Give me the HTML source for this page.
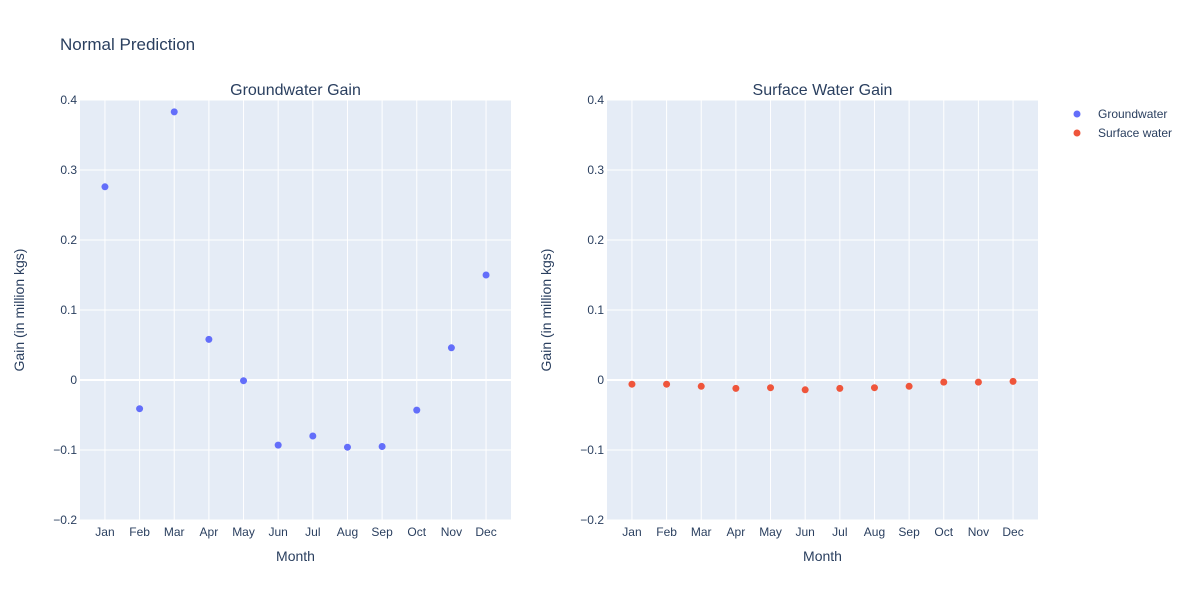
<!DOCTYPE html>
<html><head><meta charset="utf-8">
<style>
body{margin:0;background:#fff;font-family:"Liberation Sans",Arial,sans-serif;}
svg text{font-family:"Liberation Sans",Arial,sans-serif;fill:#2a3f5f;}
</style></head>
<body>
<svg id="chart" width="1200" height="600" xmlns="http://www.w3.org/2000/svg">
<text x="60" y="50" font-size="17">Normal Prediction</text>
</svg>
<script>
const months=["Jan","Feb","Mar","Apr","May","Jun","Jul","Aug","Sep","Oct","Nov","Dec"];
const groundwater=[0.276,-0.041,0.383,0.058,-0.001,-0.093,-0.080,-0.096,-0.095,-0.043,0.046,0.150];
const surfaceWater=[-0.006,-0.006,-0.009,-0.012,-0.011,-0.014,-0.012,-0.011,-0.009,-0.003,-0.003,-0.002];
const yTicks=[-0.2,-0.1,0,0.1,0.2,0.3,0.4];
const yTickLabels=["−0.2","−0.1","0","0.1","0.2","0.3","0.4"];

const svg=document.getElementById('chart');
const NS="http://www.w3.org/2000/svg";
function mk(tag,attrs,parent){const e=document.createElementNS(NS,tag);for(const k in attrs)e.setAttribute(k,attrs[k]);(parent||svg).appendChild(e);return e;}
const plotTop=100,plotBottom=520,yMin=-0.2,yMax=0.4;
function yScale(v){return plotBottom-(v-yMin)/(yMax-yMin)*(plotBottom-plotTop);}

function panel(x0,title,data,color,key){
  const x1=x0+431;
  const xScale=i=>x0+(i+0.72)/12.44*(x1-x0);
  const g=mk('g',{});
  
  
  const bg=mk('rect',{x:x0,y:plotTop,width:x1-x0,height:plotBottom-plotTop,fill:'#e5ecf6'},g);
  
  
  months.forEach((m,i)=>{
    const x=xScale(i);
    mk('line',{x1:x,x2:x,y1:plotTop,y2:plotBottom,stroke:'#fff','stroke-width':1},g);
    const t=mk('text',{x:x,y:plotBottom+16,'font-size':12,'text-anchor':'middle'},g);
    t.textContent=m;
    
    
  });
  yTicks.forEach((v,i)=>{
    const y=yScale(v);
    mk('line',{x1:x0,x2:x1,y1:y,y2:y,stroke:'#fff','stroke-width':v===0?2:1},g);
    const t=mk('text',{x:x0-3,y:y+4,'font-size':12,'text-anchor':'end'},g);
    t.textContent=yTickLabels[i];
    
    
  });
  const tt=mk('text',{x:(x0+x1)/2,y:95,'font-size':16,'text-anchor':'middle'},g);
  tt.textContent=title;
  
  
  const xt=mk('text',{x:(x0+x1)/2,y:561,'font-size':14,'text-anchor':'middle'},g);
  xt.textContent='Month';
  
  
  const yt=mk('text',{x:0,y:0,'font-size':14,'text-anchor':'middle',transform:`translate(${x0-56},${(plotTop+plotBottom)/2}) rotate(-90)`},g);
  yt.textContent='Gain (in million kgs)';
  
  
  data.forEach((v,i)=>{
    const c=mk('circle',{cx:xScale(i),cy:yScale(v),r:3.5,fill:color},g);
    
    
  });
}
panel(80,'Groundwater Gain',groundwater,'#636efa','groundwater');
panel(607,'Surface Water Gain',surfaceWater,'#EF553B','surface-water');

const legend=[["Groundwater","#636efa"],["Surface water","#EF553B"]];
legend.forEach((l,i)=>{
  const y=115+i*19;
  const c=mk('circle',{cx:1077,cy:y-1,r:3.5,fill:l[1]});
  
  
  const t=mk('text',{x:1098,y:y+3,'font-size':12});
  t.textContent=l[0];
  
  
});
</script>
</body></html>
